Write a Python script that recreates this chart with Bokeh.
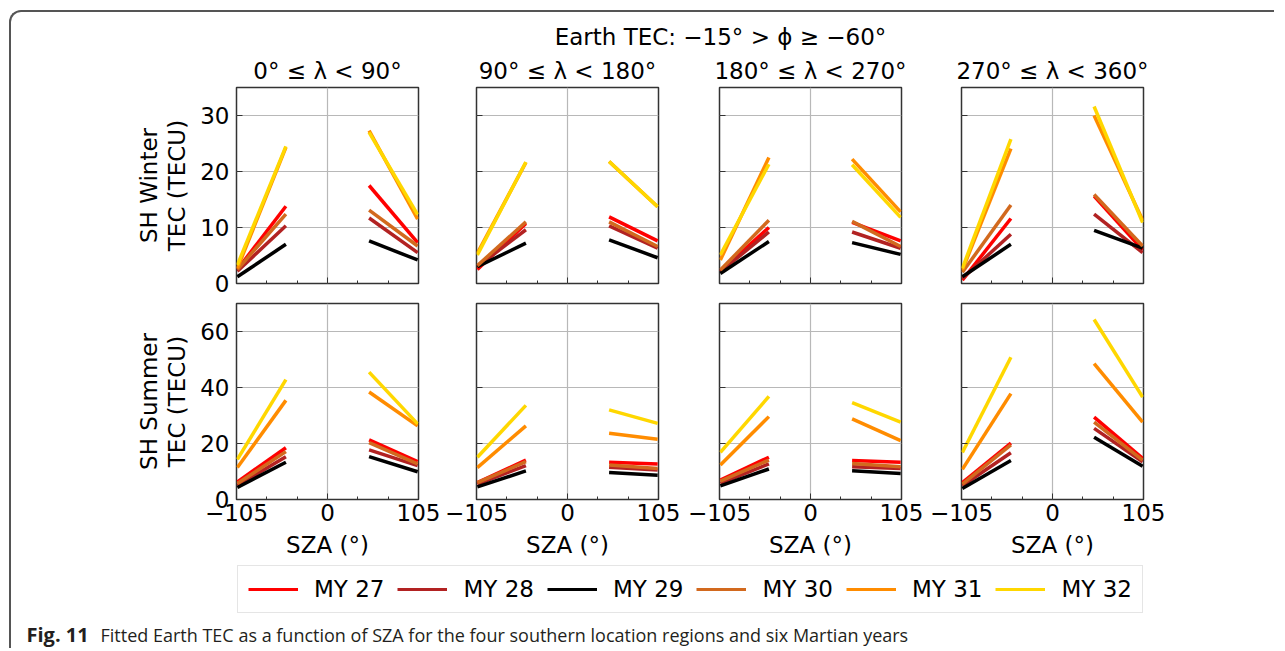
from bokeh.plotting import figure
from bokeh.layouts import row, column
from bokeh.models import (FixedTicker, LinearAxis, Label, Legend, LegendItem, Range1d,
                          CustomJSTickFormatter)
from bokeh.embed import file_html
from bokeh.resources import INLINE

# ---------------- data ----------------
years = ["MY 27", "MY 28", "MY 29", "MY 30", "MY 31", "MY 32"]
colors = ["#ff0000", "#b22222", "#000000", "#d2691e", "#ff8c00", "#ffd700"]
sza_dawn = [-104, -48]
sza_dusk = [48, 104]
region_titles = ["0° ≤ λ < 90°", "90° ≤ λ < 180°", "180° ≤ λ < 270°", "270° ≤ λ < 360°"]
x_ticks = [-105, 0, 105]
x_minor_ticks = [-70, -35, 35, 70]
winter_ticks = [0, 10, 20, 30]
summer_ticks = [0, 20, 40, 60]

# per year: [dawn start, dawn end, dusk start, dusk end] (TECU)
winter_lon000 = [[2.5, 13.8, 17.5, 7.3], [2.2, 10.3, 11.7, 5.5], [1.2, 7.0, 7.6, 4.2],
                 [2.5, 12.4, 13.1, 6.7], [2.7, 24.3, 27.3, 11.5], [3.3, 24.5, 27.0, 12.3]]
winter_lon090 = [[2.5, 10.7, 11.9, 7.6], [3.0, 9.6, 10.3, 6.3], [3.0, 7.2, 7.8, 4.6],
                 [3.2, 11.0, 11.0, 6.6], [5.4, 21.6, 21.8, 13.7], [5.1, 21.7, 21.8, 13.7]]
winter_lon180 = [[2.2, 10.0, 10.9, 7.6], [2.1, 9.2, 9.2, 6.3], [1.8, 7.5, 7.3, 5.2],
                 [2.4, 11.3, 11.1, 6.6], [4.2, 22.5, 22.2, 12.8], [5.1, 21.3, 21.2, 11.8]]
winter_lon270 = [[0.6, 11.6, 15.6, 6.0], [0.9, 8.8, 12.4, 5.5], [1.2, 7.0, 9.5, 6.3],
                 [2.0, 14.0, 15.9, 6.7], [2.4, 24.1, 30.0, 11.3], [2.7, 25.8, 31.6, 10.9]]
summer_lon000 = [[6.3, 18.5, 21.3, 13.5], [5.0, 15.3, 17.7, 12.1], [4.3, 13.3, 15.3, 9.9],
                 [5.7, 17.1, 20.3, 12.7], [11.4, 35.4, 38.4, 26.3], [14.3, 42.8, 45.5, 27.0]]
summer_lon090 = [[6.0, 14.1, 13.3, 12.7], [5.5, 12.1, 11.5, 10.5], [4.5, 10.2, 9.6, 8.7],
                 [6.0, 13.5, 12.3, 11.1], [11.4, 26.3, 23.7, 21.5], [15.1, 33.6, 32.0, 27.2]]
summer_lon180 = [[6.9, 15.1, 13.9, 13.3], [5.8, 12.7, 11.7, 11.1], [4.9, 10.9, 10.3, 9.3],
                 [6.6, 14.1, 12.9, 11.7], [12.3, 29.6, 28.8, 21.0], [16.8, 36.8, 34.6, 27.6]]
summer_lon270 = [[6.0, 20.1, 29.4, 14.7], [4.9, 16.7, 25.4, 13.5], [3.9, 13.9, 22.2, 11.9],
                 [5.5, 19.5, 27.6, 14.1], [10.8, 37.8, 48.5, 27.6], [16.8, 50.8, 64.3, 36.6]]

winter_panels = [winter_lon000, winter_lon090, winter_lon180, winter_lon270]
summer_panels = [summer_lon000, summer_lon090, summer_lon180, summer_lon270]

FONT = "DejaVu Sans"
FS = "23px"
blank = CustomJSTickFormatter(code="return ''")
minus_fmt = CustomJSTickFormatter(code="return tick < 0 ? '\u2212' + String(-tick) : String(tick)")


def make_panel(vals, col, top):
    bl = [225, 36, 39, 38][col]
    ymax = 35 if top else 70
    yt = winter_ticks if top else summer_ticks
    p = figure(frame_width=182, frame_height=196, x_range=Range1d(-105, 105),
               y_range=Range1d(0, ymax), output_backend="svg", toolbar_location=None,
               min_border_left=bl, min_border_right=22,
               min_border_top=35 if top else 6, min_border_bottom=14 if top else 63)
    p.outline_line_color = "#333333"
    p.outline_line_width = 1.5
    p.background_fill_color = None
    p.border_fill_color = None
    for k in range(6):
        p.line(sza_dawn, vals[k][0:2], line_color=colors[k], line_width=3.5)
        p.line(sza_dusk, vals[k][2:4], line_color=colors[k], line_width=3.5)
    xa = p.xaxis[0]
    xa.ticker = FixedTicker(ticks=x_ticks, minor_ticks=x_minor_ticks)
    xa.major_tick_in = 6
    xa.major_tick_out = 0
    xa.minor_tick_in = 3
    xa.minor_tick_out = 0
    xa.axis_line_color = None
    xa.major_tick_line_color = "#333333"
    xa.minor_tick_line_color = "#333333"
    xa.major_label_text_font = FONT
    xa.major_label_text_font_size = FS
    xa.major_label_text_color = "black"
    xa.major_label_standoff = 4
    if top:
        xa.formatter = blank
    else:
        xa.formatter = minus_fmt
        xa.axis_label = "SZA (°)"
        xa.axis_label_text_font = FONT
        xa.axis_label_text_font_size = FS
        xa.axis_label_text_font_style = "normal"
        xa.axis_label_text_color = "black"
        xa.axis_label_standoff = 8
    ya = p.yaxis[0]
    ya.ticker = FixedTicker(ticks=yt, minor_ticks=[])
    ya.major_tick_in = 6
    ya.major_tick_out = 0
    ya.minor_tick_line_color = None
    ya.axis_line_color = None
    ya.major_tick_line_color = "#333333"
    ya.major_label_text_font = FONT
    ya.major_label_text_font_size = FS
    ya.major_label_text_color = "black"
    ya.major_label_standoff = 7
    if col == 0:
        ya.axis_label = "TEC (TECU)"
        ya.axis_label_text_font = FONT
        ya.axis_label_text_font_size = FS
        ya.axis_label_text_font_style = "normal"
        ya.axis_label_text_color = "black"
        ya.axis_label_standoff = 7
        ya2 = LinearAxis(ticker=FixedTicker(ticks=[]), axis_label="SH Winter" if top else "SH Summer",
                         axis_line_color=None, major_tick_line_color=None,
                         minor_tick_line_color=None, axis_label_standoff=0,
                         axis_label_text_font=FONT, axis_label_text_font_size=FS,
                         axis_label_text_font_style="normal", axis_label_text_color="black")
        p.add_layout(ya2, "left")
    else:
        ya.formatter = blank
    p.xgrid.grid_line_color = "#b8b8b8"
    p.ygrid.grid_line_color = "#b8b8b8"
    p.xgrid.grid_line_width = 1.2
    p.ygrid.grid_line_width = 1.2
    if top:
        p.title.text = region_titles[col]
        p.title.align = "center"
        p.title.text_font = FONT
        p.title.text_font_size = FS
        p.title.text_font_style = "normal"
        p.title.text_color = "black"
        p.title.standoff = 7
    return p


def blank_fig(w, h):
    f = figure(width=w, height=h, x_range=Range1d(0, w), y_range=Range1d(0, h),
               output_backend="svg", toolbar_location=None, min_border=0,
               x_axis_location=None, y_axis_location=None)
    f.grid.visible = False
    f.outline_line_color = None
    f.background_fill_color = None
    f.border_fill_color = None
    return f


W = 1263
header = blank_fig(W, 40)
header.add_layout(Label(x=709, y=16, text="Earth TEC: −15° > ϕ ≥ −60°", text_align="center",
                        text_baseline="middle", text_font=FONT, text_font_size=FS,
                        text_color="black"))

row1 = row([make_panel(winter_panels[c], c, True) for c in range(4)], spacing=0)
row2 = row([make_panel(summer_panels[c], c, False) for c in range(4)], spacing=0)

leg_fig = blank_fig(W, 56)
items = []
for k in range(6):
    # legend-only renderers, kept outside the visible range
    r = leg_fig.line([-50, -40], [-50, -40], line_color=colors[k], line_width=3)
    items.append(LegendItem(label=years[k], renderers=[r]))
legend = Legend(items=items, orientation="horizontal", location=(226, 5),
                border_line_color="#cccccc", border_line_width=1.2, background_fill_color="white",
                label_text_font=FONT, label_text_font_size=FS, label_text_color="black",
                glyph_width=50, glyph_height=20, label_standoff=16, spacing=13, padding=10,
                margin=0, label_height=25)
leg_fig.add_layout(legend)

cap = blank_fig(W, 30)
cap.add_layout(Label(x=15, y=14, text="Fig. 11", text_font="Open Sans", text_font_style="bold",
                     text_font_size="20px", text_baseline="middle", text_color="#231f20"))
cap.add_layout(Label(x=89, y=14, text="Fitted Earth TEC as a function of SZA for the four southern "
                     "location regions and six Martian years", text_font="Open Sans",
                     text_font_size="18px", text_baseline="middle", text_color="#231f20"))

layout = column([header, row1, row2, leg_fig, cap], spacing=0, margin=(10, 0, 0, 9),
                styles={"border-top": "2px solid #555555", "border-left": "2px solid #555555",
                        "border-top-left-radius": "12px"})

open("out.html", "w").write(file_html(layout, INLINE))
